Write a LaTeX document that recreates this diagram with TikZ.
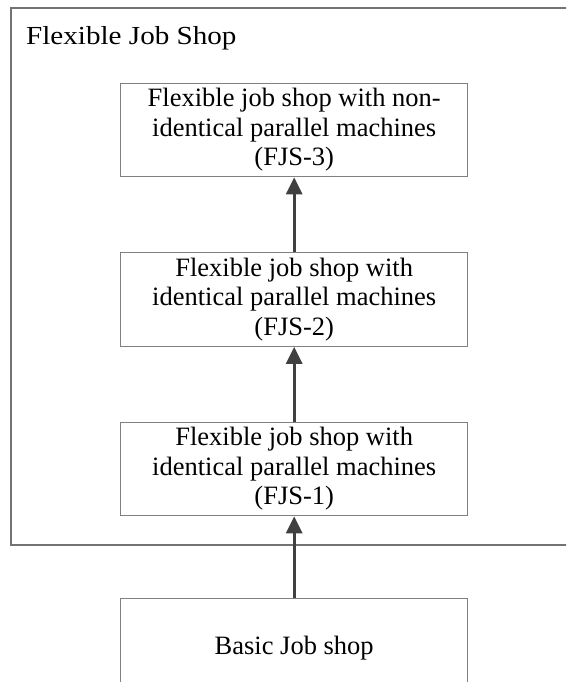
\documentclass[tikz,border=0pt]{standalone}
\usepackage{fontspec}
\setmainfont{Liberation Serif}
\newfontfamily\titlefont[FakeStretch=1.12]{Liberation Serif}
\usetikzlibrary{arrows.meta}
\tikzset{
  boxnode/.style={draw=black!50, line width=1.2pt, minimum width=347pt, minimum height=93.5pt, align=center, inner sep=0pt,
    font=\fontsize{26.5pt}{29.5pt}\selectfont},
  arr/.style={draw=black!75, line width=3pt, -{Triangle[length=17pt,width=16pt]}},
  frame/.style={draw=black!55, line width=1.2pt}
}
\begin{document}
\begin{tikzpicture}[x=1pt,y=-1pt]
\useasboundingbox (0,0) rectangle (566,682);
\clip (0,0) rectangle (566,682);
\draw[frame] (11,8) rectangle (600,545);
\node[anchor=base west, inner sep=0pt, font=\titlefont\fontsize{26pt}{29pt}\selectfont] (title) at (26,44.5) {Flexible Job Shop};
\node[boxnode] (b3) at (294.2,130) {Flexible job shop with non-\\identical parallel machines\\(FJS-3)};
\node[boxnode] (b2) at (294.2,299.5) {Flexible job shop with\\identical parallel machines\\(FJS-2)};
\node[boxnode] (b1) at (294.2,469) {Flexible job shop with\\identical parallel machines\\(FJS-1)};
\node[boxnode, minimum height=100pt] (basic) at (294.2,648.5) {Basic Job shop};
\draw[arr] (basic.north) -- (b1.south);
\draw[arr] (b1.north) -- (b2.south);
\draw[arr] (b2.north) -- (b3.south);
\end{tikzpicture}
\end{document}
